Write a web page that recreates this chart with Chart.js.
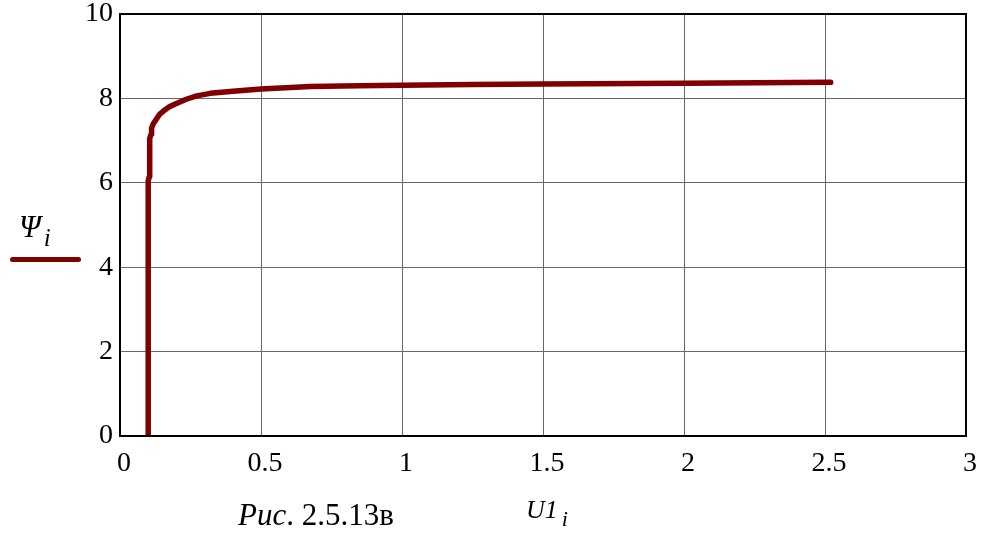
<!DOCTYPE html>
<html>
<head>
<meta charset="utf-8">
<script src="https://cdn.jsdelivr.net/npm/chart.js@4.4.1/dist/chart.umd.min.js"></script>
<style>
  html, body { margin: 0; padding: 0; background: #fff; }
  #wrap { position: relative; width: 984px; height: 534px; }
  canvas { display: block; }
  .t { position: absolute; font-family: "Liberation Serif", "Times New Roman", serif; color: #000; white-space: nowrap; line-height: 1; }
  .it { font-style: italic; }
  sub { vertical-align: -0.35em; }
</style>
</head>
<body>
<div id="wrap">
  <canvas id="c" width="984" height="534"></canvas>
  <div class="t it" style="left:19px; top:211px; font-size:31px;">Ψ<sub style="font-size:25px; margin-left:3px;">i</sub></div>
  <div style="position:absolute; left:10px; top:257px; width:71px; height:5px; background:#800000; border-radius:3px;"></div>
  <div class="t" style="left:238px; top:499px; font-size:31px;"><span class="it">Рис</span>. 2.5.13в</div>
  <div class="t it" style="left:526px; top:497px; font-size:26px;">U1<sub style="font-size:22px; margin-left:4px;">i</sub></div>
</div>
<script>
const xValues = [0.100, 0.100, 0.100, 0.104, 0.104, 0.106, 0.106, 0.110, 0.112, 0.118, 0.130, 0.140, 0.154, 0.175, 0.200, 0.235, 0.272, 0.320, 0.400, 0.500, 0.675, 0.850, 1.000, 1.250, 1.500, 2.000, 2.520];
const yValues = [0.00, 3.00, 6.05, 6.15, 6.75, 6.80, 7.05, 7.15, 7.30, 7.40, 7.52, 7.62, 7.70, 7.80, 7.88, 7.98, 8.06, 8.12, 8.17, 8.22, 8.28, 8.30, 8.31, 8.33, 8.34, 8.36, 8.38];
const xTicks = [0, 0.5, 1, 1.5, 2, 2.5, 3];
const yTicks = [0, 2, 4, 6, 8, 10];

const points = xValues.map((x, i) => ({ x: x, y: yValues[i] }));

const frame = {
  id: 'frame',
  afterDraw(chart) {
    const a = chart.chartArea, ctx = chart.ctx;
    ctx.save();
    ctx.strokeStyle = '#000';
    ctx.lineWidth = 2;
    ctx.strokeRect(a.left, a.top, a.right - a.left, a.bottom - a.top);
    ctx.restore();
  }
};

const tickFont = { family: '"Liberation Serif", "Times New Roman", serif', size: 28 };

new Chart(document.getElementById('c'), {
  type: 'scatter',
  data: {
    datasets: [{
      data: points,
      showLine: true,
      borderColor: '#800000',
      borderWidth: 5.5,
      pointRadius: 0,
      borderCapStyle: 'round',
      borderJoinStyle: 'round',
      tension: 0
    }]
  },
  options: {
    responsive: false,
    animation: false,
    layout: { padding: { left: 0, right: 18, top: 14, bottom: 0 } },
    plugins: { legend: { display: false }, tooltip: { enabled: false } },
    scales: {
      x: {
        type: 'linear',
        min: 0, max: 3,
        afterBuildTicks(s) { s.ticks = xTicks.map(v => ({ value: v })); },
        afterFit(s) { s.height = 98; s.paddingLeft = 0; s.paddingRight = 0; },
        ticks: { font: tickFont, color: '#000', padding: 11, labelOffset: 4, maxRotation: 0, callback: v => String(v) },
        grid: { color: '#666', lineWidth: 1, drawTicks: false },
        border: { color: '#000', width: 2 }
      },
      y: {
        type: 'linear',
        min: 0, max: 10,
        afterBuildTicks(s) { s.ticks = yTicks.map(v => ({ value: v })); },
        afterFit(s) { s.width = 120; s.paddingTop = 0; s.paddingBottom = 0; },
        ticks: { font: tickFont, color: '#000', padding: 7, callback: v => String(v) },
        grid: { color: '#666', lineWidth: 1, drawTicks: false },
        border: { color: '#000', width: 2 }
      }
    }
  },
  plugins: [frame]
});
</script>
</body>
</html>
